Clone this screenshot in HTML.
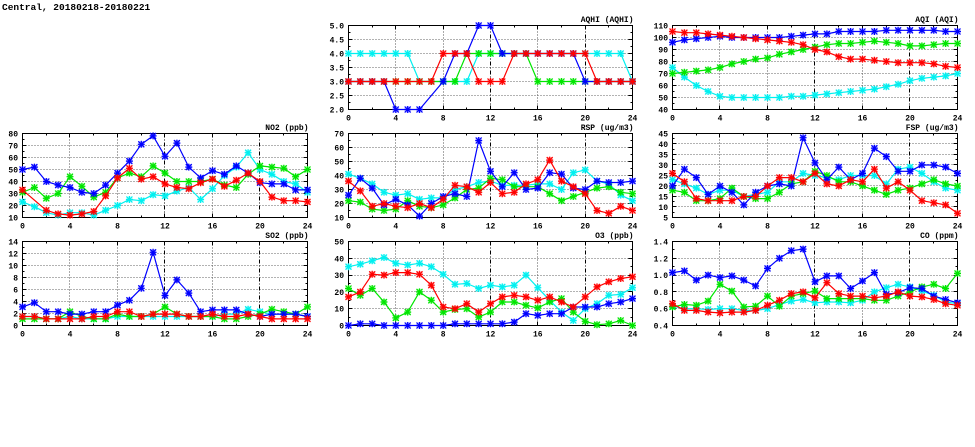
<!DOCTYPE html>
<html>
<head>
<meta charset="utf-8">
<style>
html,body{margin:0;padding:0;background:#fff;}
svg{display:block;}
.t{font-family:"Liberation Mono",monospace;font-weight:bold;font-size:8px;fill:#000;}
.h{font-family:"Liberation Mono",monospace;font-weight:bold;font-size:9.5px;fill:#000;}
</style>
</head>
<body>
<svg id="s" width="975" height="447" viewBox="0 0 975 447" xmlns="http://www.w3.org/2000/svg">
<rect x="0" y="0" width="975" height="447" fill="#fff"/>
<g id="grid"></g>
<g id="frame"></g>
<g id="data"></g>
<text class="h" x="2" y="10">Central, 20180218-20180221</text>

<g class="t" text-anchor="end">
<!-- titles -->
<text x="633.5" y="22">AQHI (AQHI)</text>
<text x="958.5" y="22">AQI (AQI)</text>
<text x="308.5" y="130">NO2 (ppb)</text>
<text x="633.5" y="130">RSP (ug/m3)</text>
<text x="958.5" y="130">FSP (ug/m3)</text>
<text x="308.5" y="238">SO2 (ppb)</text>
<text x="633.5" y="238">O3 (ppb)</text>
<text x="958.5" y="238">CO (ppm)</text>

<!-- NO2 y labels -->
<text x="18" y="136.5">80</text>
<text x="18" y="148.5">70</text>
<text x="18" y="160.5">60</text>
<text x="18" y="172.5">50</text>
<text x="18" y="184.5">40</text>
<text x="18" y="196.5">30</text>
<text x="18" y="208.5">20</text>
<text x="18" y="220.5">10</text>
<!-- SO2 y labels -->
<text x="18" y="244.5">14</text>
<text x="18" y="256.5">12</text>
<text x="18" y="268.5">10</text>
<text x="18" y="280.5">8</text>
<text x="18" y="292.5">6</text>
<text x="18" y="304.5">4</text>
<text x="18" y="316.5">2</text>
<text x="18" y="328.5">0</text>
<!-- AQHI y labels -->
<text x="344" y="28.5">5.0</text>
<text x="344" y="42.5">4.5</text>
<text x="344" y="56.5">4.0</text>
<text x="344" y="70.5">3.5</text>
<text x="344" y="84.5">3.0</text>
<text x="344" y="98.5">2.5</text>
<text x="344" y="112.5">2.0</text>
<!-- RSP y labels -->
<text x="344" y="136.5">70</text>
<text x="344" y="150.5">60</text>
<text x="344" y="164.5">50</text>
<text x="344" y="178.5">40</text>
<text x="344" y="192.5">30</text>
<text x="344" y="206.5">20</text>
<text x="344" y="220.5">10</text>
<!-- O3 y labels -->
<text x="344" y="244.5">50</text>
<text x="344" y="261.3">40</text>
<text x="344" y="278.1">30</text>
<text x="344" y="294.9">20</text>
<text x="344" y="311.7">10</text>
<text x="344" y="328.5">0</text>
<!-- AQI y labels -->
<text x="668" y="28.5">110</text>
<text x="668" y="40.5">100</text>
<text x="668" y="52.5">90</text>
<text x="668" y="64.5">80</text>
<text x="668" y="76.5">70</text>
<text x="668" y="88.5">60</text>
<text x="668" y="100.5">50</text>
<text x="668" y="112.5">40</text>
<!-- FSP y labels -->
<text x="668" y="136.5">45</text>
<text x="668" y="147">40</text>
<text x="668" y="157.5">35</text>
<text x="668" y="168">30</text>
<text x="668" y="178.5">25</text>
<text x="668" y="189">20</text>
<text x="668" y="199.5">15</text>
<text x="668" y="210">10</text>
<text x="668" y="220.5">5</text>
<!-- CO y labels -->
<text x="668" y="244.5">1.4</text>
<text x="668" y="261.3">1.2</text>
<text x="668" y="278.1">1.0</text>
<text x="668" y="294.9">0.8</text>
<text x="668" y="311.7">0.6</text>
<text x="668" y="328.5">0.4</text>
</g>

<g class="t" text-anchor="middle">
<!-- row0 col1 AQHI -->
<text x="348.5" y="120.5">0</text><text x="395.8" y="120.5">4</text><text x="443.2" y="120.5">8</text><text x="490.5" y="120.5">12</text><text x="537.8" y="120.5">16</text><text x="585.2" y="120.5">20</text><text x="632.5" y="120.5">24</text>
<!-- row0 col2 AQI -->
<text x="672.5" y="120.5">0</text><text x="720" y="120.5">4</text><text x="767.5" y="120.5">8</text><text x="815" y="120.5">12</text><text x="862.5" y="120.5">16</text><text x="910" y="120.5">20</text><text x="957.5" y="120.5">24</text>
<!-- row1 col0 NO2 -->
<text x="22.5" y="228.5">0</text><text x="70" y="228.5">4</text><text x="117.5" y="228.5">8</text><text x="165" y="228.5">12</text><text x="212.5" y="228.5">16</text><text x="260" y="228.5">20</text><text x="307.5" y="228.5">24</text>
<!-- row1 col1 RSP -->
<text x="348.5" y="228.5">0</text><text x="395.8" y="228.5">4</text><text x="443.2" y="228.5">8</text><text x="490.5" y="228.5">12</text><text x="537.8" y="228.5">16</text><text x="585.2" y="228.5">20</text><text x="632.5" y="228.5">24</text>
<!-- row1 col2 FSP -->
<text x="672.5" y="228.5">0</text><text x="720" y="228.5">4</text><text x="767.5" y="228.5">8</text><text x="815" y="228.5">12</text><text x="862.5" y="228.5">16</text><text x="910" y="228.5">20</text><text x="957.5" y="228.5">24</text>
<!-- row2 col0 SO2 -->
<text x="22.5" y="336.5">0</text><text x="70" y="336.5">4</text><text x="117.5" y="336.5">8</text><text x="165" y="336.5">12</text><text x="212.5" y="336.5">16</text><text x="260" y="336.5">20</text><text x="307.5" y="336.5">24</text>
<!-- row2 col1 O3 -->
<text x="348.5" y="336.5">0</text><text x="395.8" y="336.5">4</text><text x="443.2" y="336.5">8</text><text x="490.5" y="336.5">12</text><text x="537.8" y="336.5">16</text><text x="585.2" y="336.5">20</text><text x="632.5" y="336.5">24</text>
<!-- row2 col2 CO -->
<text x="672.5" y="336.5">0</text><text x="720" y="336.5">4</text><text x="767.5" y="336.5">8</text><text x="815" y="336.5">12</text><text x="862.5" y="336.5">16</text><text x="910" y="336.5">20</text><text x="957.5" y="336.5">24</text>
</g>
</svg>
<script>
(function(){
var cols=[[22.5,307.5],[348.5,632.5],[672.5,957.5]];
var rows=[[25.5,109.5],[133.5,217.5],[241.5,325.5]];
var COL={b:'#0000ff',r:'#ff0000',g:'#00e600',c:'#00f0f0'};
var N=null;
var P=[
{c:1,r:0,min:2,max:5,step:0.5,d:{
c:[4,4,4,4,4,4,3,3,3,3,3,4,4,4,4,4,4,4,4,4,4,4,4,4,3],
g:[3,3,3,3,3,3,3,3,3,3,4,4,4,4,4,4,3,3,3,3,3,3,3,3,3],
b:[3,3,3,3,2,2,2,N,3,4,4,5,5,4,4,4,4,4,4,4,3,3,3,3,3],
r:[3,3,3,3,3,3,3,3,4,4,4,3,3,3,4,4,4,4,4,4,4,3,3,3,3]}},
{c:2,r:0,min:40,max:110,step:10,d:{
c:[75,67,60,55,51,50,50,50,50,50,51,51,52,53,54,55,56,57,59,61,64,66,67,68,70],
g:[70,71,72,73,75,78,80,82,83,86,88,90,92,94,95,95,96,97,96,95,93,93,94,95,95],
b:[96,98,99,100,101,100,100,100,100,100,101,102,103,103,105,105,105,105,106,106,106,106,106,105,105],
r:[105,104,104,103,102,101,100,99,98,97,96,94,90,88,84,82,82,81,80,79,79,79,78,76,75]}},
{c:0,r:1,min:10,max:80,step:10,d:{
c:[23,19,14,12,14,14,12,16,20,25,24,29,28,32,35,25,34,45,52,64,50,46,40,38,31],
g:[31,35,26,30,44,36,27,31,43,47,44,53,47,40,40,40,42,37,35,46,53,52,51,44,50],
b:[50,52,40,37,35,31,30,37,47,57,71,78,61,72,52,43,49,46,53,47,39,38,38,33,33],
r:[33,N,16,13,12,13,15,28,43,51,42,44,38,35,34,39,42,36,41,47,40,27,24,24,23]}},
{c:1,r:1,min:10,max:70,step:10,d:{
c:[41,38,34,28,26,27,23,24,24,30,32,35,36,33,33,33,34,34,30,42,44,36,34,26,22],
g:[22,21,16,15,16,22,18,17,19,24,30,31,38,37,32,32,32,27,22,25,28,31,32,28,27],
b:[26,38,31,19,23,19,11,20,25,27,25,65,43,32,42,30,31,42,41,31,30,36,35,35,36],
r:[36,29,18,20,18,17,20,17,23,33,32,28,35,27,28,34,37,51,36,32,27,15,13,18,15]}},
{c:2,r:1,min:5,max:45,step:5,d:{
c:[23,21,19,16,18,18,15,16,17,22,22,26,25,24,23,25,25,25,21,28,29,26,22,19,18],
g:[18,17,13,13,14,19,15,14,14,17,21,22,27,25,22,22,20,18,16,18,19,21,23,21,20],
b:[20,28,24,16,20,17,11,17,20,21,20,43,31,23,29,23,26,38,34,27,27,30,30,29,26],
r:[26,22,14,13,13,13,15,15,20,24,24,22,26,21,20,23,22,28,19,22,18,13,12,11,7]}},
{c:0,r:2,min:0,max:14,step:2,d:{
c:[1.5,1.5,1.1,1.1,1.5,1.1,1.1,1.1,1.5,1.5,1.5,1.5,1.5,1.5,1.5,1.5,1.5,1.9,1.9,2.7,2.3,1.9,1.9,1.9,1.5],
g:[1.1,1.1,1.1,1.1,2.3,1.5,1.1,1.1,1.9,1.5,1.5,1.9,3.1,1.9,1.5,1.5,1.5,1.1,1.1,1.5,1.9,2.7,2.3,1.9,3.1],
b:[3.1,3.8,2.3,2.3,1.9,1.9,2.3,2.3,3.4,4.2,6.2,12.2,5.0,7.6,5.4,2.3,2.6,2.6,2.6,1.9,1.5,1.9,1.9,1.9,1.5],
r:[1.5,1.5,1.1,1.1,1.1,1.1,1.5,1.5,2.3,2.3,1.5,1.9,1.9,1.9,1.5,1.5,1.9,1.5,1.5,1.9,1.5,1.1,1.1,1.1,1.1]}},
{c:1,r:2,min:0,max:50,step:10,d:{
c:[35,36.5,38.5,40.5,37,36,37,35,30.5,24.5,25,22,24,23,24,30,22.5,15,8,3,10,13,18,18.5,22.5],
g:[22,18,22,14,4.5,8,20,15,8,9.5,10,5,8,14,14,12,10.5,14,16,8,2.5,0.5,1,3,0],
b:[0,1,1,0,0,0,0,0,0,1,1,1,1,1,2,7,6,7,7,11,11,11,13,14,16],
r:[17,20,30.5,30,31.5,31.5,30.5,24,11,10,13,8,13,17,18,17,15,17,14,11,17,23,26,28,29]}},
{c:2,r:2,min:0.4,max:1.4,step:0.2,d:{
c:[0.63,0.6,0.6,0.59,0.6,0.6,0.58,0.58,0.6,0.65,0.69,0.71,0.67,0.68,0.68,0.67,0.7,0.8,0.85,0.89,0.86,0.81,0.76,0.68,0.66],
g:[0.62,0.65,0.64,0.69,0.89,0.81,0.62,0.63,0.75,0.63,0.75,0.78,0.81,0.72,0.72,0.72,0.72,0.7,0.7,0.75,0.8,0.86,0.89,0.84,1.02],
b:[1.03,1.05,0.94,1.0,0.97,0.99,0.94,0.87,1.08,1.2,1.29,1.31,0.92,0.99,0.99,0.84,0.93,1.03,0.77,0.79,0.85,0.84,0.75,0.71,0.67],
r:[0.66,0.58,0.58,0.56,0.55,0.56,0.56,0.58,0.64,0.7,0.78,0.8,0.73,0.91,0.78,0.75,0.75,0.73,0.75,0.8,0.75,0.74,0.71,0.66,0.64]}}
];
function sn(v){return Math.floor(v)+0.5;}
function L(x1,y1,x2,y2,st){return '<line x1="'+x1+'" y1="'+y1+'" x2="'+x2+'" y2="'+y2+'" '+st+'/>';}
var gs='',fs='',ds='';
P.forEach(function(p){
  var x0=cols[p.c][0],x1=cols[p.c][1],y0=rows[p.r][0],y1=rows[p.r][1];
  var X=function(h){return x0+(x1-x0)*h/24;};
  var Y=function(v){return y1-(y1-y0)*(v-p.min)/(p.max-p.min);};
  var n=Math.round((p.max-p.min)/p.step);
  var fst='stroke="#000" stroke-width="1"';
  for(var i=0;i<=n;i++){
    var y=sn(Y(p.min+i*p.step)-0.01);
    if(i===n) y=y0;
    if(i===0) y=y1;
    if(i>0&&i<n) gs+=L(x0,y,x1,y,'stroke="#666" stroke-width="1" stroke-dasharray="1 2"');
    fs+=L(x0,y,x0+4,y,fst)+L(x1-4,y,x1,y,fst);
    if(i<n){var ym=sn(Y(p.min+(i+0.5)*p.step));fs+=L(x0,ym,x0+2,ym,fst)+L(x1-2,ym,x1,ym,fst);}
  }
  for(var h=0;h<=24;h+=2){
    var x=sn(X(h)-0.01);
    if(h===0)x=x0; if(h===24)x=x1;
    var len=(h%4===0)?4:2;
    fs+=L(x,y1,x,y1-len,fst)+L(x,y0,x,y0+len,fst);
    if(h%4===0&&h>0&&h<24){
      if(h===12||h===20) gs+=L(x,y0,x,y1,'stroke="#000" stroke-width="1" stroke-dasharray="4 2 1 2"');
      else gs+=L(x,y0,x,y1,'stroke="#555" stroke-width="1" stroke-dasharray="1 2"');
    }
  }
  fs+='<rect x="'+x0+'" y="'+y0+'" width="'+(x1-x0)+'" height="'+(y1-y0)+'" fill="none" stroke="#000" stroke-width="1"/>';
  ['c','g','b','r'].forEach(function(k){
    var arr=p.d[k],col=COL[k],pts=[],mk='';
    for(var j=0;j<arr.length;j++){
      if(arr[j]===null)continue;
      var px=X(j),py=Y(arr[j]);
      pts.push(px.toFixed(1)+','+py.toFixed(1));
      mk+='<rect x="'+(px-3).toFixed(1)+'" y="'+(py-3).toFixed(1)+'" width="6" height="6" fill="'+col+'" fill-opacity="0.3" stroke="none"/>';
      mk+='<path d="M'+(px-3.5).toFixed(1)+' '+py.toFixed(1)+'H'+(px+3.5).toFixed(1)+'M'+px.toFixed(1)+' '+(py-3.5).toFixed(1)+'V'+(py+3.5).toFixed(1)+'M'+(px-3).toFixed(1)+' '+(py-3).toFixed(1)+'L'+(px+3).toFixed(1)+' '+(py+3).toFixed(1)+'M'+(px-3).toFixed(1)+' '+(py+3).toFixed(1)+'L'+(px+3).toFixed(1)+' '+(py-3).toFixed(1)+'" stroke="'+col+'" stroke-width="1.2" fill="none"/>';
    }
    ds+='<polyline points="'+pts.join(' ')+'" fill="none" stroke="'+col+'" stroke-width="1.2" stroke-linejoin="round"/>'+mk;
  });
});
document.getElementById('grid').innerHTML=gs;
document.getElementById('frame').innerHTML=fs;
document.getElementById('data').innerHTML=ds;
})();
</script>
</body>
</html>
